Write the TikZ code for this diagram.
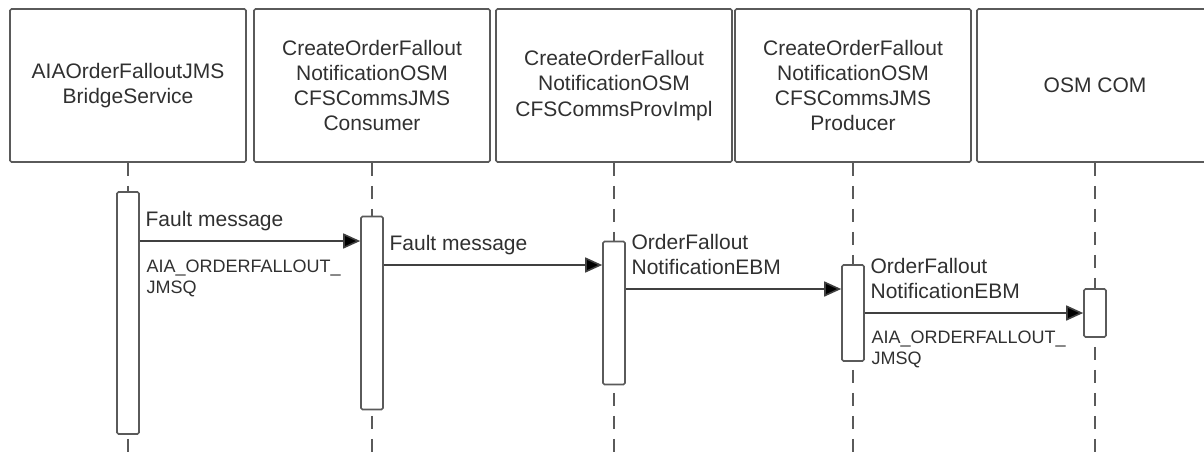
\documentclass[tikz,border=0pt]{standalone}
\usepackage{fontspec}
\setmainfont{Liberation Sans}
\usepackage{tikz}
\usepackage{xcolor}
\definecolor{seqBorder}{HTML}{5A5A5A}
\definecolor{seqText}{HTML}{303030}
\definecolor{seqArrow}{HTML}{404040}
\usetikzlibrary{arrows.meta}

\begin{document}
\begin{tikzpicture}[x=1pt, y=-1pt,
  objbox/.style={rectangle, draw=seqBorder, line width=1.6pt, rounded corners=1.5pt, minimum width=236pt, minimum height=153pt, align=center, text=seqText, font=\fontsize{21}{25.3}\selectfont, inner sep=0pt},
  actbar/.style={rectangle, draw=seqBorder, fill=white, line width=1.6pt, rounded corners=1.5pt, minimum width=22pt, inner sep=0pt},
  lifeline/.style={draw=seqBorder, line width=1.6pt, dash pattern=on 13pt off 10pt},
  msg/.style={draw=seqArrow, line width=1.6pt, -{Triangle[length=17pt, width=15pt, fill=black]}},
  msglabel/.style={anchor=base west, align=left, inner sep=0pt, text=seqText, font=\fontsize{21}{25}\selectfont},
  qlabel/.style={anchor=base west, align=left, inner sep=0pt, text=seqText, font=\fontsize{18}{21}\selectfont}]
  \useasboundingbox (0,0) rectangle (1204,456);
  \node[objbox] (bridge) at (128,85.5) {AIAOrderFalloutJMS\\BridgeService};
  \node[objbox] (consumer) at (372,85.5) {CreateOrderFallout\\NotificationOSM\\CFSCommsJMS\\Consumer};
  \node[objbox] (provimpl) at (614,85.5) {CreateOrderFallout\\NotificationOSM\\CFSCommsProvImpl};
  \node[objbox] (producer) at (853,85.5) {CreateOrderFallout\\NotificationOSM\\CFSCommsJMS\\Producer};
  \node[objbox] (osmcom) at (1095,85.5) {OSM COM};
  \coordinate (bottom) at (0,456);
  \coordinate (mid) at (0,313);
  \foreach \obj in {bridge,consumer,provimpl,producer,osmcom}
    \draw[lifeline] (\obj.south) -- (\obj.south |- bottom);
  \node[actbar, minimum height=242pt] (actBridge) at (bridge |- mid) {};
  \node[actbar, minimum height=193pt] (actConsumer) at (consumer |- mid) {};
  \node[actbar, minimum height=143pt] (actProvImpl) at (provimpl |- mid) {};
  \node[actbar, minimum height=96pt] (actProducer) at (producer |- mid) {};
  \node[actbar, minimum height=48pt] (actOsmCom) at (osmcom |- mid) {};
  \coordinate (m1) at (0,241);
  \coordinate (m2) at (0,265);
  \coordinate (m3) at (0,289);
  \coordinate (m4) at (0,313);
  \draw[msg] (actBridge.east |- m1) -- (actConsumer.west |- m1)
    node[at start, msglabel, xshift=5pt, yshift=15pt] (faultA) {Fault message}
    node[at start, qlabel, xshift=6pt, yshift=-52pt] (queueA) {AIA\_ORDERFALLOUT\_\\JMSQ};
  \draw[msg] (actConsumer.east |- m2) -- (actProvImpl.west |- m2)
    node[at start, msglabel, xshift=5pt, yshift=15pt] (faultB) {Fault message};
  \draw[msg] (actProvImpl.east |- m3) -- (actProducer.west |- m3)
    node[at start, msglabel, xshift=5pt, yshift=15pt] (ebmA) {OrderFallout\\NotificationEBM};
  \draw[msg] (actProducer.east |- m4) -- (actOsmCom.west |- m4)
    node[at start, msglabel, xshift=5pt, yshift=15pt] (ebmB) {OrderFallout\\NotificationEBM}
    node[at start, qlabel, xshift=6pt, yshift=-51pt] (queueB) {AIA\_ORDERFALLOUT\_\\JMSQ};
\end{tikzpicture}
\end{document}
